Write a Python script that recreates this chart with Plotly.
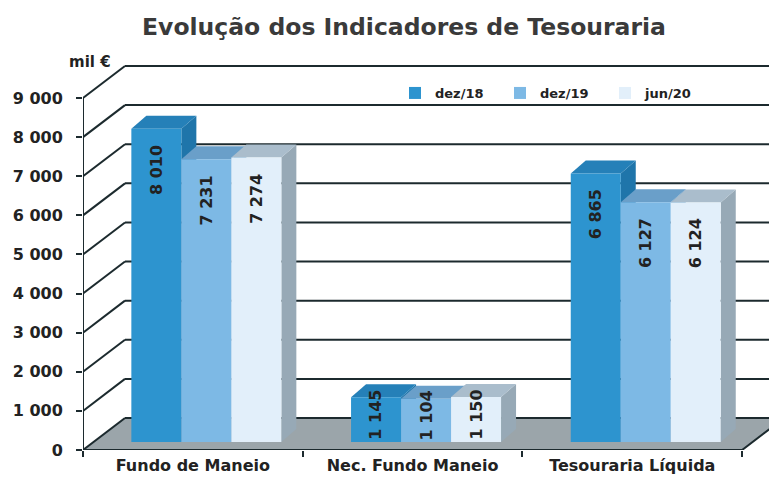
import plotly.graph_objects as go

# ---------------- data ----------------
categories = ["Fundo de Maneio", "Nec. Fundo Maneio", "Tesouraria Líquida"]
series_names = ["dez/18", "dez/19", "jun/20"]
dez18 = [8010, 1145, 6865]
dez19 = [7231, 1104, 6127]
jun20 = [7274, 1150, 6124]
y_ticks = [0, 1000, 2000, 3000, 4000, 5000, 6000, 7000, 8000, 9000]
y_ticklabels = ["0", "1 000", "2 000", "3 000", "4 000", "5 000", "6 000", "7 000", "8 000", "9 000"]
y_unit = "mil €"
title = "Evolução dos Indicadores de Tesouraria"

series_values = [dez18, dez19, jun20]

# ---------------- styling / geometry ----------------
FONT = "DejaVu Sans"
DARK = "#1c2a2e"
TEXT = "#222222"
FRONT = ["#2d94cf", "#7db9e5", "#e2effa"]
SIDE = ["#1f75aa", "#5f9ccb", "#97a9b6"]
TOP = ["#2580b8", "#6a9fc9", "#aabdcc"]
FLOOR = "#9ba5aa"

PAGE_OFF = 8                      # default body margin of the html page
PAGE_W, PAGE_H = 777, 486
W, H = PAGE_W - PAGE_OFF, PAGE_H - PAGE_OFF
ML, MR, MT, MB = 83 - PAGE_OFF, 0, 55 - PAGE_OFF, 36
plot_w = W - ML - MR
plot_h = H - MT - MB
PX_PER_X = 219.7
PX_PER_Y = 352 / 9000.0
X0 = -0.5
XEND = len(categories) - 0.5
XMAX = X0 + plot_w / PX_PER_X
YMAX = plot_h / PX_PER_Y


def dx(px):
    return px / PX_PER_X


def dy(px):
    return px / PX_PER_Y


WALL_DX, WALL_DY = dx(42), dy(32)
BAR_BASE = dy(8)
GROUP_SHIFT = dx(13.5)
BAR_W = dx(50)
DEPTH_DX, DEPTH_DY = dx(15), dy(13)

fig = go.Figure()
shapes = []

# floor
shapes.append(dict(
    type="path", xref="x", yref="y", layer="below",
    path=f"M {X0},0 L {XEND},0 L {XEND + WALL_DX},{WALL_DY} L {X0 + WALL_DX},{WALL_DY} Z",
    fillcolor=FLOOR, line=dict(width=0)))

# walls gridlines (left wall diagonals + back wall horizontals)
for v in y_ticks:
    shapes.append(dict(type="line", xref="x", yref="y", layer="below",
                       x0=X0, y0=v, x1=X0 + WALL_DX, y1=v + WALL_DY,
                       line=dict(color=DARK, width=2)))
    shapes.append(dict(type="line", xref="x", yref="y", layer="below",
                       x0=X0 + WALL_DX, y0=v + WALL_DY, x1=XMAX + 1, y1=v + WALL_DY,
                       line=dict(color=DARK, width=2)))
# front left edge
shapes.append(dict(type="line", xref="x", yref="y", layer="below",
                   x0=X0, y0=0, x1=X0, y1=max(y_ticks),
                   line=dict(color=DARK, width=2)))
# floor front + right edges
shapes.append(dict(type="path", xref="x", yref="y", layer="below",
                   path=f"M {X0},0 L {XEND},0 L {XEND + WALL_DX},{WALL_DY}",
                   line=dict(color=DARK, width=2)))

annotations = []
n = len(series_values)
for k, (name, vals) in enumerate(zip(series_names, series_values)):
    offset = -n * BAR_W / 2 + k * BAR_W
    xs = [i + GROUP_SHIFT for i in range(len(categories))]
    fig.add_trace(go.Bar(
        x=xs, y=vals, base=[BAR_BASE] * len(vals), name=name,
        width=BAR_W, offset=offset,
        marker=dict(color=FRONT[k], line=dict(width=0)),
        hoverinfo="skip"))
    for i, v in enumerate(vals):
        xl = i + GROUP_SHIFT + offset
        xr = xl + BAR_W
        top = BAR_BASE + v
        # side face
        shapes.append(dict(
            type="path", xref="x", yref="y", layer="below",
            path=(f"M {xr},{BAR_BASE} L {xr},{top} L {xr + DEPTH_DX},{top + DEPTH_DY} "
                  f"L {xr + DEPTH_DX},{BAR_BASE + DEPTH_DY} Z"),
            fillcolor=SIDE[k], line=dict(width=0)))
        # top face
        shapes.append(dict(
            type="path", xref="x", yref="y", layer="below",
            path=(f"M {xl},{top} L {xr},{top} L {xr + DEPTH_DX},{top + DEPTH_DY} "
                  f"L {xl + DEPTH_DX},{top + DEPTH_DY} Z"),
            fillcolor=TOP[k], line=dict(width=0)))
        label = f"{v:,}".replace(",", " ")
        if v * PX_PER_Y > 70:
            annotations.append(dict(
                x=(xl + xr) / 2, y=top, xref="x", yref="y", text=label,
                textangle=-90, showarrow=False, xanchor="center", yanchor="top",
                yshift=-14, font=dict(family=FONT, size=16, color=TEXT, weight="bold")))
        else:
            annotations.append(dict(
                x=(xl + xr) / 2, y=BAR_BASE + v / 2, xref="x", yref="y", text=label,
                textangle=-90, showarrow=False, xanchor="center", yanchor="middle",
                yshift=5, font=dict(family=FONT, size=16, color=TEXT, weight="bold")))

# unit label
annotations.append(dict(
    x=X0 + dx(30), y=max(y_ticks) + dy(36), xref="x", yref="y", text=y_unit,
    showarrow=False, xanchor="right", yanchor="middle",
    font=dict(family=FONT, size=15, color=TEXT, weight="bold")))

fig.update_layout(
    width=W, height=H,
    margin=dict(l=ML, r=MR, t=MT, b=MB, autoexpand=False),
    paper_bgcolor="white", plot_bgcolor="white",
    barmode="overlay",
    shapes=shapes, annotations=annotations,
    title=dict(text=title, x=(404 - PAGE_OFF) / W, xanchor="center",
               y=1 - (27 - PAGE_OFF) / H, yanchor="middle",
               font=dict(family=FONT, size=23.5, color="#3a3a3a", weight="bold")),
    legend=dict(orientation="h", x=(395 - 83) / plot_w, xanchor="left",
                y=(450 - 93) / plot_h, yanchor="middle",
                bgcolor="rgba(0,0,0,0)", entrywidth=60, entrywidthmode="pixels",
                font=dict(family=FONT, size=13, color=TEXT, weight="bold")),
    xaxis=dict(range=[X0, XMAX], tickmode="array", tickvals=list(range(len(categories))),
               ticktext=categories, ticks="", showgrid=False, zeroline=False, showline=False,
               ticklabelstandoff=4,
               tickfont=dict(family=FONT, size=16, color=TEXT, weight="bold"),
               minor=dict(tickmode="array",
                          tickvals=[i - 0.5 for i in range(len(categories) + 1)],
                          ticks="outside", ticklen=6, tickwidth=2, tickcolor=DARK,
                          showgrid=False)),
    yaxis=dict(range=[0, YMAX], tickmode="array", tickvals=y_ticks, ticktext=y_ticklabels,
               ticks="outside", ticklen=6, tickwidth=2, tickcolor=DARK,
               showgrid=False, zeroline=False, showline=False, ticklabelstandoff=10,
               tickfont=dict(family=FONT, size=16, color=TEXT, weight="bold")),
    showlegend=True,
)

fig.write_html("out.html")
